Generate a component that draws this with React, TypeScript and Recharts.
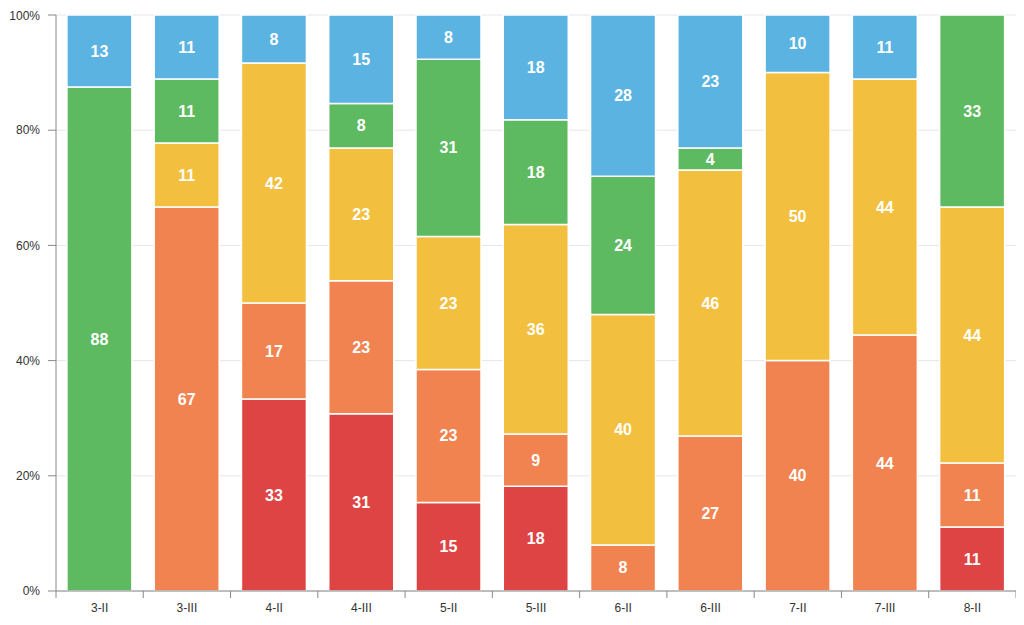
import React from "react";
import { BarChart, Bar, XAxis, YAxis, CartesianGrid, LabelList } from "recharts";

const categories = ["3-II", "3-III", "4-II", "4-III", "5-II", "5-III", "6-II", "6-III", "7-II", "7-III", "8-II"];

// counts per group, stacked bottom to top
const red = [0, 0, 4, 4, 2, 2, 0, 0, 0, 0, 1];
const orange = [0, 6, 2, 3, 3, 1, 2, 7, 4, 4, 1];
const yellow = [0, 1, 5, 3, 3, 4, 10, 12, 5, 4, 4];
const green = [7, 1, 0, 1, 4, 2, 6, 1, 0, 0, 3];
const blue = [1, 1, 1, 2, 1, 2, 7, 6, 1, 1, 0];

const yTicks = [0, 0.2, 0.4, 0.6, 0.8, 1];

const series = [
  { key: "red", values: red, color: "#DE4444" },
  { key: "orange", values: orange, color: "#F0834F" },
  { key: "yellow", values: yellow, color: "#F3BF3E" },
  { key: "green", values: green, color: "#5EBA60" },
  { key: "blue", values: blue, color: "#5BB3E1" },
];

const totals = categories.map((_, i) => series.reduce((s, se) => s + se.values[i], 0));

// each row keeps the count and a rounded percent label
const data = categories.map((name, i) => {
  const row: Record<string, string | number> = { name };
  series.forEach((s) => {
    const v = s.values[i];
    row[s.key] = v;
    row[s.key + "Pct"] = v ? String(Math.round((v / totals[i]) * 100)) : "";
  });
  return row;
});

const font = "'Liberation Sans', Arial, Helvetica, sans-serif";

function renderLabel(props: any) {
  const { x, y, width, height, value } = props;
  if (value === "" || value == null || Array.isArray(value)) return null;
  return (
    <text
      x={Number(x) + Number(width) / 2}
      y={Number(y) + Number(height) / 2}
      textAnchor="middle"
      dominantBaseline="central"
      fill="#fff"
      fontWeight="bold"
      fontSize={16}
      fontFamily={font}
    >
      {value}
    </text>
  );
}

function CategoryTick(props: any) {
  const { x, y, payload, index } = props;
  const half = payload && payload.offset ? payload.offset : 960 / 22;
  return (
    <g>
      <line x1={x - half} x2={x - half} y1={y} y2={y + 7} stroke="#888" />
      {index === categories.length - 1 && (
        <line x1={x + half} x2={x + half} y1={y} y2={y + 7} stroke="#888" />
      )}
      <text x={x} y={y + 21} textAnchor="middle" fill="#333" fontSize={12} fontFamily={font}>
        {payload.value}
      </text>
    </g>
  );
}

export default function App() {
  return (
    <BarChart
      width={1016}
      height={617}
      data={data}
      stackOffset="expand"
      barCategoryGap="12.5%"
      margin={{ top: 7, right: 8, left: 0, bottom: 0 }}
    >
      <CartesianGrid vertical={false} stroke="#e6e6e6" />
      <XAxis
        dataKey="name"
        height={34}
        tickSize={0}
        tickMargin={0}
        tickLine={false}
        axisLine={{ stroke: "#888" }}
        tick={<CategoryTick />}
        interval={0}
      />
      <YAxis
        width={48}
        domain={[0, 1]}
        ticks={yTicks}
        tickFormatter={(v: number) => `${Math.round(v * 100)}%`}
        tickSize={8}
        tickMargin={8}
        axisLine={{ stroke: "#888" }}
        tickLine={{ stroke: "#888" }}
        tick={{ fill: "#333", fontSize: 12, fontFamily: font }}
      />
      {series.map((s) => (
        <Bar
          key={s.key}
          dataKey={s.key}
          stackId="a"
          fill={s.color}
          stroke="#fff"
          strokeWidth={1.5}
          isAnimationActive={false}
        >
          <LabelList dataKey={s.key + "Pct"} content={renderLabel} />
        </Bar>
      ))}
    </BarChart>
  );
}
